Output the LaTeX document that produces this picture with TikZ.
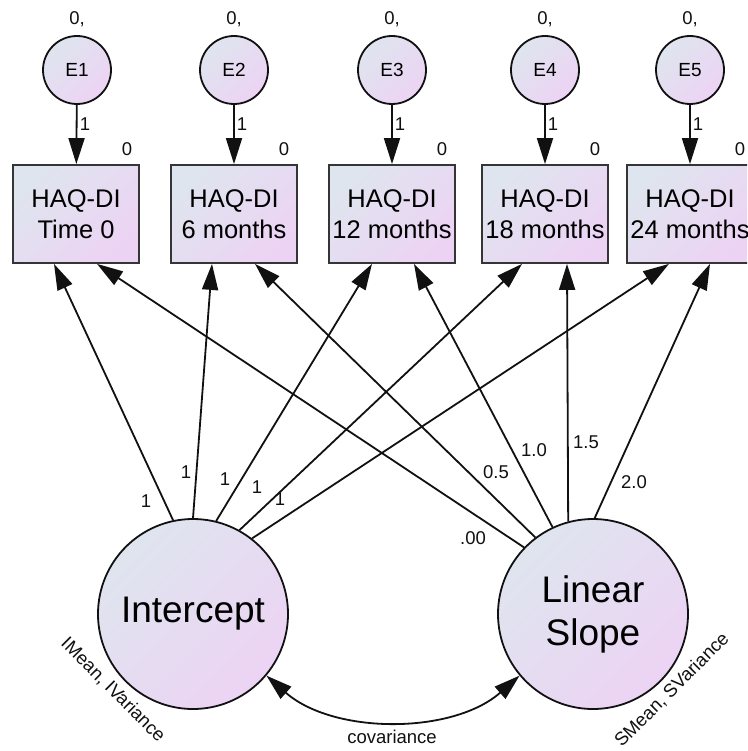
\documentclass[tikz,border=0pt]{standalone}
\usepackage{fontspec}
\setmainfont{Liberation Sans}
\usetikzlibrary{arrows.meta,calc}
\definecolor{gA}{HTML}{DFE5EE}
\definecolor{gB}{HTML}{ECD3F4}
\definecolor{ink}{HTML}{111111}
\begin{document}
\begin{tikzpicture}[x=1pt,y=-1pt,
  shadefill/.style={top color=gA, bottom color=gB, shading angle=45},
  errc/.style={circle, draw=ink, line width=1.8pt, minimum size=68pt, inner sep=0pt, shadefill, font=\fontsize{19}{21}\selectfont},
  obsbox/.style={rectangle, draw=ink!85, line width=1.8pt, minimum width=126pt, minimum height=98pt, inner sep=0pt, shadefill, align=center, font=\fontsize{25.5}{31}\selectfont},
  latent/.style={circle, draw=ink, line width=1.8pt, minimum size=190pt, inner sep=0pt, shadefill, align=center, font=\fontsize{37}{43}\selectfont},
  lbl/.style={inner sep=0pt, text=ink, font=\fontsize{18.5}{21}\selectfont},
  regarrow/.style={draw=ink, line width=1.8pt, -{Triangle[length=26pt,width=16pt]}},
  covarrow/.style={draw=ink, line width=1.8pt, {Triangle[length=26pt,width=16pt]}-{Triangle[length=26pt,width=16pt]}}
]
\clip (0,0) rectangle (747,751);
\fill[white] (0,0) rectangle (747,751);

% error terms
\node[errc] (E1) at (77,70) {E1};
\node[errc] (E2) at (234,70) {E2};
\node[errc] (E3) at (392,70) {E3};
\node[errc] (E4) at (545,70) {E4};
\node[errc] (E5) at (690,70) {E5};

% observed boxes
\node[obsbox] (B1) at (76,214) {HAQ-DI\\Time 0};
\node[obsbox] (B2) at (234,214) {HAQ-DI\\6 months};
\node[obsbox] (B3) at (392,214) {HAQ-DI\\12 months};
\node[obsbox] (B4) at (545,214) {HAQ-DI\\18 months};
\node[obsbox] (B5) at (690,214) {HAQ-DI\\24 months};

% latent factors
\node[latent] (I) at (193,614) {Intercept};
\node[latent] (S) at (593,614) {Linear\\Slope};

% labels above error circles
\foreach \n/\x in {1/77,2/234,3/392,4/545,5/690}{
  \node[lbl] (m\n) at (\x,19) {0,};
  \node[lbl] (w\n) at (\x+8,124) {1};
  \node[lbl] (z\n) at (\x+50,149) {0};
}

% error -> box
\foreach \n in {1,...,5}{
  \draw[regarrow] (E\n) -- (B\n);
}

% intercept loadings
\draw[regarrow] (I.102) -- ([xshift=-22pt]B1.south);
\draw[regarrow] (I.90)  -- ([xshift=-22pt]B2.south);
\draw[regarrow] (I.76)  -- ([xshift=-20pt]B3.south);
\draw[regarrow] (I.61)  -- ([xshift=-23pt]B4.south);
\draw[regarrow] (I.52)  -- ([xshift=-21pt]B5.south);

% slope loadings
\draw[regarrow] (S.136)   -- ([xshift=21pt]B1.south);
\draw[regarrow] (S.127)   -- ([xshift=21pt]B2.south);
\draw[regarrow] (S.115.5) -- ([xshift=22pt]B3.south);
\draw[regarrow] (S.105.7) -- ([xshift=22pt]B4.south);
\draw[regarrow] (S.89)    -- ([xshift=20pt]B5.south);

% loading labels
\node[lbl] (i1) at (146,501) {1};
\node[lbl] (i2) at (186,472) {1};
\node[lbl] (i3) at (225,479) {1};
\node[lbl] (i4) at (257,487) {1};
\node[lbl] (i5) at (280,499) {1};
\node[lbl] (s1) at (473,538) {.00};
\node[lbl] (s2) at (496,472) {0.5};
\node[lbl] (s3) at (534,450) {1.0};
\node[lbl] (s4) at (586,442) {1.5};
\node[lbl] (s5) at (634,482) {2.0};

% covariance
\draw[covarrow] (I.-40) .. controls +(67,59) and +(-67,59) .. (S.220);
\node[lbl] (cov) at (392,737) {covariance};

% variance labels
\node[lbl, rotate=-45] (iv) at (113,690) {IMean, IVariance};
\node[lbl, rotate=45] (sv) at (672,690) {SMean, SVariance};
\end{tikzpicture}
\end{document}
